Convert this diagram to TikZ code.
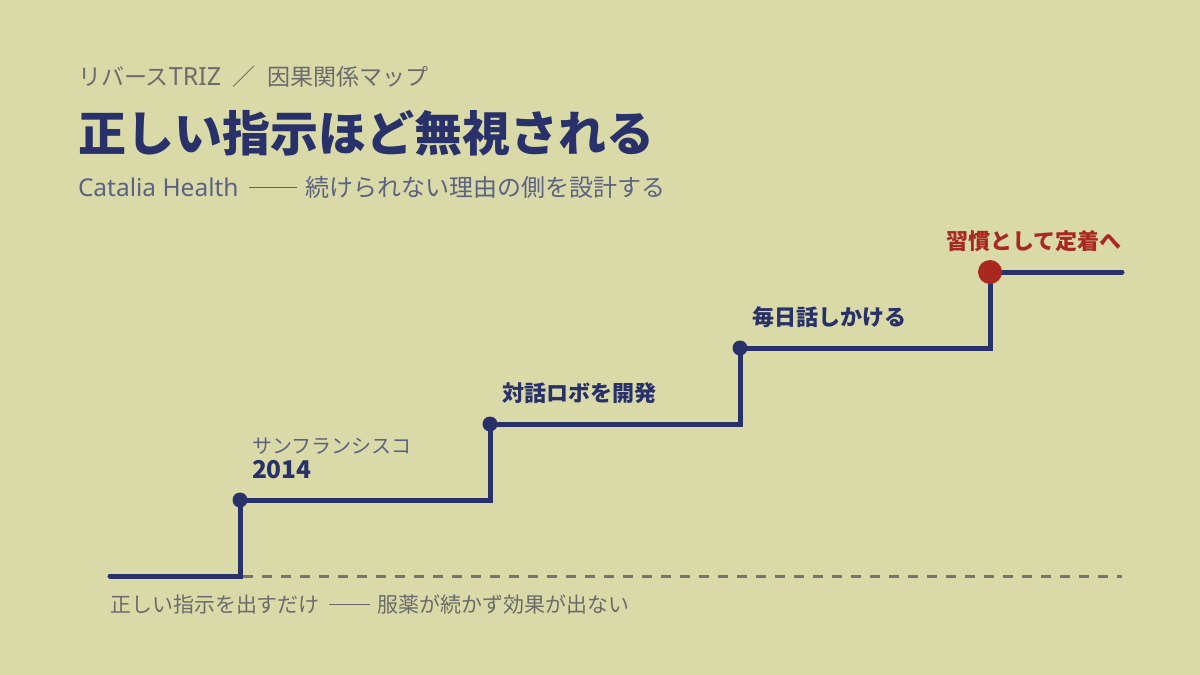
\documentclass[tikz,border=0pt]{standalone}
\usepackage{fontspec}
\setmainfont{Noto Sans CJK JP}
\newfontfamily\latfont{Noto Sans}
\definecolor{bg}{HTML}{D9DAA8}
\definecolor{navy}{HTML}{283169}
\definecolor{redd}{HTML}{A9281F}
\definecolor{graytxt}{HTML}{6B6B6B}
\definecolor{bluegray}{HTML}{5C6282}
\definecolor{dashgray}{HTML}{747474}
\newcommand{\longdash}[1]{\hspace{0.45em}\rule[0.36em]{#1}{0.9pt}\hspace{0.35em}}
\tikzset{
  txt/.style={anchor=west, inner sep=0pt, outer sep=0pt},
  stepline/.style={draw=navy, line width=5pt, line join=miter, line cap=round},
  dotnode/.style={circle, fill=navy, minimum size=15pt, inner sep=0pt},
  goalnode/.style={circle, fill=redd, minimum size=24pt, inner sep=0pt},
  baseline/.style={draw=dashgray, line width=3pt, dash pattern=on 10pt off 9pt},
  steplabel/.style={txt, font=\fontsize{22}{25}\selectfont\bfseries, text=navy}
}
\begin{document}
\begin{tikzpicture}[x=1pt,y=-1pt]
\fill[bg] (0,0) rectangle (1200,675);
\useasboundingbox (0,0) rectangle (1200,675);
% header
\node[txt, font=\fontsize{23}{26}\selectfont, text=graytxt] (kicker) at (78,77) {リバース{\latfont\fontsize{25}{26}\selectfont TRIZ}\hspace{0.5em}／\hspace{0.5em}因果関係マップ};
\node[txt, font=\fontsize{48}{54}\selectfont\bfseries, text=navy] (title) at (78,133) {正しい指示ほど無視される};
\node[txt, font=\fontsize{24}{27}\selectfont, text=bluegray] (sub) at (78,187) {{\latfont\fontsize{24.5}{27}\selectfont Catalia Health}\longdash{48pt}続けられない理由の側を設計する};
% coordinates
\coordinate (s0) at (110,576);
\coordinate (c1) at (240,576);
\coordinate (p1) at (240,500);
\coordinate (c2) at (490,500);
\coordinate (p2) at (490,424);
\coordinate (c3) at (740,424);
\coordinate (p3) at (740,348);
\coordinate (c4) at (990,348);
\coordinate (p4) at (990,272);
\coordinate (e) at (1122,272);
\coordinate (de) at (1122,576);
% dashed baseline
\draw[baseline] (243,576) -- (de);
% staircase
\draw[stepline] (s0) -- (c1) -- (p1) -- (c2) -- (p2) -- (c3) -- (p3) -- (c4) -- (p4) -- (e);
\node[dotnode] (d1) at (p1) {};
\node[dotnode] (d2) at (p2) {};
\node[dotnode] (d3) at (p3) {};
\node[goalnode] (d4) at (p4) {};
% labels
\node[txt, font=\fontsize{20}{23}\selectfont, text=bluegray] (l1a) at (252,446) {サンフランシスコ};
\node[txt, font=\fontsize{24.5}{27}\selectfont\bfseries, text=navy] (l1b) at (252,470) {2014};
\node[steplabel] (l2) at (502,393) {対話ロボを開発};
\node[steplabel] (l3) at (752,317) {毎日話しかける};
\node[steplabel, text=redd] (l4) at (946,241) {習慣として定着へ};
% footer
\node[txt, font=\fontsize{21}{24}\selectfont, text=graytxt] (foot) at (110,604) {正しい指示を出すだけ\longdash{41pt}服薬が続かず効果が出ない};
\end{tikzpicture}
\end{document}
